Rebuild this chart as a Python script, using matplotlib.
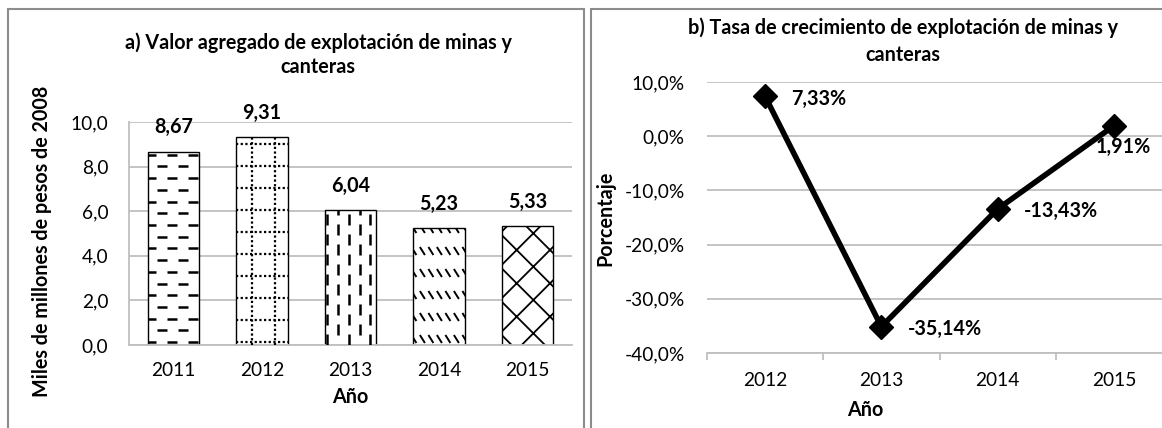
import numpy as np
import matplotlib
matplotlib.use("Agg")
import matplotlib.pyplot as plt
from matplotlib.collections import LineCollection
from matplotlib.patches import Rectangle
from matplotlib.ticker import FuncFormatter

# --- data ---
years_a = ["2011", "2012", "2013", "2014", "2015"]
valor = [8.67, 9.31, 6.04, 5.23, 5.33]
years_b = ["2012", "2013", "2014", "2015"]
tasa = [7.33, -35.14, -13.43, 1.91]
patterns = ["dash_h", "dot_grid", "dash_v", "dash_diag", "cross"]

title_a = ["a) Valor agregado de explotación de minas y", "canteras"]
title_b = ["b) Tasa de crecimiento de explotación de minas y", "canteras"]

plt.rcParams["font.family"] = ["Lato", "DejaVu Sans"]
plt.rcParams["hatch.linewidth"] = 1.3

W, H = 1162, 428
GRID = "#bfbfbf"
BORDER = "#8c8c8c"
FS = 14.2
TS = 13.8

fig = plt.figure(figsize=(W / 100, H / 100), dpi=100)


def fx(px):
    return px / W


def fy(py):
    return 1 - py / H


def comma(v, dec):
    return f"{v:.{dec}f}".replace(".", ",")


# panel frames
fig.add_artist(Rectangle((fx(8), fy(440)), fx(584 - 8), (440 - 9) / H, transform=fig.transFigure,
                         fill=False, edgecolor=BORDER, lw=1.5))
fig.add_artist(Rectangle((fx(591), fy(440)), fx(1180 - 591), (440 - 9) / H, transform=fig.transFigure,
                         fill=False, edgecolor=BORDER, lw=1.5))

ax1 = fig.add_axes([fx(129), fy(345), fx(572 - 129), (345 - 122) / H])
ax2 = fig.add_axes([fx(707), fy(353), fx(1172 - 707), (353 - 82) / H])


def px_size(ax):
    # data units per pixel in x and y
    p0 = ax.transData.transform((0, 0))
    p1 = ax.transData.transform((1, 1))
    return 1 / (p1[0] - p0[0]), 1 / (p1[1] - p0[1])


def add_pattern(ax, bar, kind):
    if kind == "cross":
        bar.set_hatch("x")
        return
    dx, dy = px_size(ax)
    x0, w, h = bar.get_x(), bar.get_width(), bar.get_height()
    segs = []
    lw, ls = 2.0, "solid"
    if kind == "dash_h":
        rows = np.arange(3 * dy, h, 11.7 * dy)
        for i, y in enumerate(rows):
            off = -2 * dx if i % 2 == 0 else 9 * dx
            for xs in np.arange(x0 + off, x0 + w, 21 * dx):
                segs.append([(xs, y), (xs + 10.5 * dx, y)])
        lw = 1.8
    elif kind == "dot_grid":
        for y in np.arange(3 * dy, h, 22 * dy):
            segs.append([(x0, y), (x0 + w, y)])
        for xs in (16 * dx, 38.5 * dx):
            segs.append([(x0 + xs, 0), (x0 + xs, h)])
        lw, ls = 1.6, (0, (1, 1.1))
    elif kind == "dash_v":
        cols = np.arange(2 * dx, w, 10.9 * dx)
        for i, xs in enumerate(cols):
            off = 0 if i % 2 == 0 else 10 * dy
            for ys in np.arange(off, h, 20 * dy):
                segs.append([(x0 + xs, ys), (x0 + xs, ys + 11 * dy)])
        lw = 1.8
    elif kind == "dash_diag":
        for y in np.arange(6 * dy, h, 22 * dy):
            for xs in np.arange(x0 - 2 * dx, x0 + w, 8.5 * dx):
                segs.append([(xs, y + 4 * dy), (xs + 5 * dx, y - 4 * dy)])
        lw = 1.4
    lc = LineCollection(segs, colors="black", linewidths=lw, linestyles=ls, zorder=3)
    ax.add_collection(lc)
    lc.set_clip_path(bar)  # after add_collection, which would reset it


# ---------- panel a ----------
xa = np.arange(len(years_a))
ax1.set_xlim(-0.5, len(years_a) - 0.5)
ax1.set_ylim(0, 10)
bars = ax1.bar(xa, valor, width=0.58, color="white", edgecolor="black", linewidth=1.0, zorder=2)
for bar, kind in zip(bars, patterns):
    add_pattern(ax1, bar, kind)
for xi, v in zip(xa, valor):
    ax1.annotate(comma(v, 2), (xi, v), xytext=(0, 17.5), textcoords="offset points",
                 ha="center", va="center", fontsize=FS, fontweight="bold")

ax1.set_yticks(np.arange(0, 10.1, 2))
ax1.yaxis.set_major_formatter(FuncFormatter(lambda v, p: comma(v, 1)))
ax1.set_xticks(xa, years_a)
ax1.yaxis.grid(True, color=GRID, lw=1.3)
ax1.set_axisbelow(True)
for s in ("top", "right"):
    ax1.spines[s].set_visible(False)
for s in ("left", "bottom"):
    ax1.spines[s].set_color(GRID)
    ax1.spines[s].set_linewidth(1.3)
ax1.tick_params(axis="both", length=0, labelsize=TS)
ax1.tick_params(axis="y", pad=15)
ax1.tick_params(axis="x", pad=12)

# ---------- panel b ----------
xb = np.arange(len(years_b))
ax2.set_xlim(-0.5, len(years_b) - 0.5)
ax2.set_ylim(-40, 10)
ax2.plot(xb, tasa, color="black", lw=4, marker="D", ms=12, zorder=3, clip_on=False)
for i, (xi, v) in enumerate(zip(xb, tasa)):
    if i == len(tasa) - 1:
        off, ha = (7, -15), "center"
    else:
        off, ha = (19, -1.5), "left"
    ax2.annotate(comma(v, 2) + "%", (xi, v), xytext=off, textcoords="offset points",
                 ha=ha, va="center", fontsize=FS, fontweight="bold")

ax2.set_yticks(np.arange(-40, 10.1, 10))
ax2.yaxis.set_major_formatter(FuncFormatter(lambda v, p: comma(v, 1) + "%"))
ax2.set_xticks(xb, years_b)
ax2.set_xticks(np.arange(-0.5, len(years_b), 1), minor=True)
ax2.yaxis.grid(True, color=GRID, lw=1.3)
ax2.set_axisbelow(True)
for s in ("top", "right", "left"):
    ax2.spines[s].set_visible(False)
ax2.spines["bottom"].set_color(GRID)
ax2.spines["bottom"].set_linewidth(1.3)
ax2.tick_params(axis="both", which="major", length=0, labelsize=TS)
ax2.tick_params(axis="x", which="minor", length=5, width=1.3, color=GRID)
ax2.tick_params(axis="y", pad=16)
ax2.tick_params(axis="x", pad=14)

# ---------- titles and axis labels ----------
fig.text(fx(318), fy(43), title_a[0], ha="center", va="center", fontsize=FS, fontweight="bold")
fig.text(fx(318), fy(67), title_a[1], ha="center", va="center", fontsize=FS, fontweight="bold")
fig.text(fx(903), fy(28), title_b[0], ha="center", va="center", fontsize=FS, fontweight="bold")
fig.text(fx(903), fy(55), title_b[1], ha="center", va="center", fontsize=FS, fontweight="bold")

fig.text(fx(350), fy(397), "Año", ha="center", va="center", fontsize=FS, fontweight="bold")
fig.text(fx(865), fy(410), "Año", ha="center", va="center", fontsize=FS, fontweight="bold")
fig.text(fx(42), fy(241), "Miles de millones de pesos de 2008", rotation=90,
         ha="center", va="center", fontsize=FS, fontweight="bold")
fig.text(fx(605), fy(218), "Porcentaje", rotation=90,
         ha="center", va="center", fontsize=FS, fontweight="bold")

fig.savefig("out.png", dpi=100)
